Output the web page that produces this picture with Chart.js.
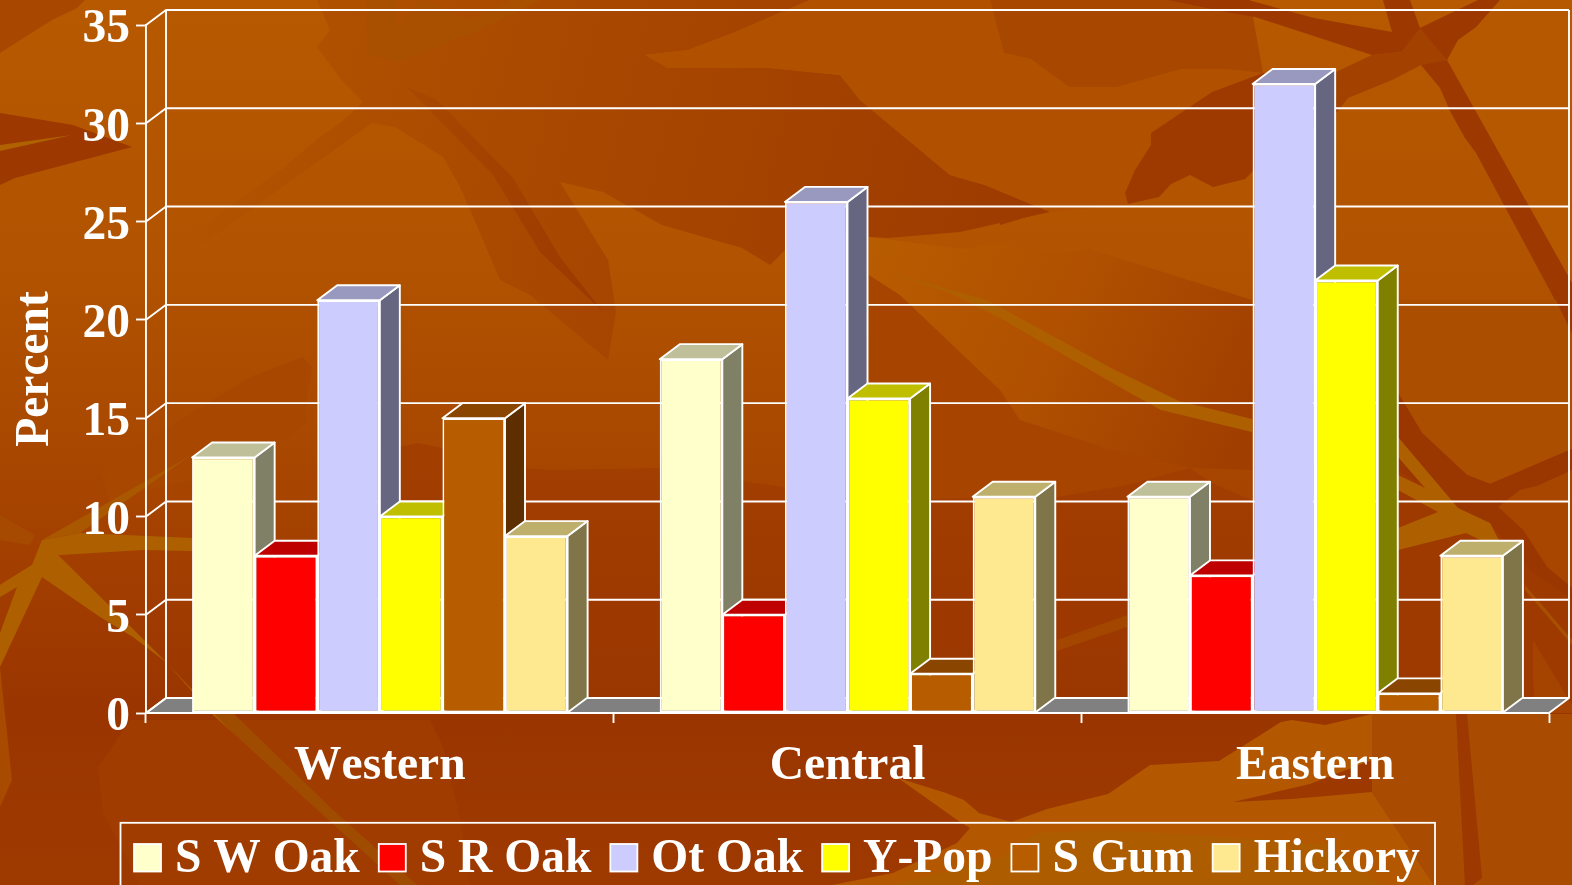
<!DOCTYPE html>
<html><head><meta charset="utf-8">
<style>
html,body{margin:0;padding:0;background:#A03C00;width:1572px;height:885px;overflow:hidden}
#bg{position:absolute;left:0;top:0}
#wrap{position:absolute;left:0;top:0;width:1572px;height:885px}
</style>
<script src="https://cdn.jsdelivr.net/npm/chart.js@4"></script>
</head><body>
<svg id="bg" width="1572" height="885" viewBox="0 0 1572 885">
<defs>
<linearGradient id="base" x1="0" y1="0" x2="0" y2="885" gradientUnits="userSpaceOnUse">
<stop offset="0" stop-color="#B75900"/><stop offset=".3" stop-color="#B15300"/><stop offset=".5" stop-color="#A94800"/><stop offset=".68" stop-color="#A03C00"/><stop offset=".8" stop-color="#9A3500"/><stop offset="1" stop-color="#9E3A00"/>
</linearGradient>
<linearGradient id="tone" x1="250" y1="0" x2="1050" y2="200" gradientUnits="userSpaceOnUse">
<stop offset="0" stop-color="#B15300"/><stop offset=".45" stop-color="#A84700"/><stop offset="1" stop-color="#9D3A00"/>
</linearGradient>
<linearGradient id="midr" x1="869" y1="240" x2="1250" y2="420" gradientUnits="userSpaceOnUse">
<stop offset="0" stop-color="#B85C00"/><stop offset=".5" stop-color="#B05000"/><stop offset="1" stop-color="#A03E00"/>
</linearGradient>
<linearGradient id="low" x1="0" y1="470" x2="0" y2="700" gradientUnits="userSpaceOnUse">
<stop offset="0" stop-color="#A23E00"/><stop offset="1" stop-color="#9A3600"/>
</linearGradient>
<linearGradient id="stripe" x1="407" y1="87" x2="603" y2="312" gradientUnits="userSpaceOnUse">
<stop offset="0" stop-color="#A84800"/><stop offset="1" stop-color="#9C3800"/>
</linearGradient>
</defs>
<rect width="1572" height="885" fill="url(#base)"/>
<!-- top tones -->
<polygon fill="url(#tone)" points="317,0 330,30 317,47 340,78 363,102 340,123 320,137 283,168 250,192 190,235 160,260 170,268 260,203 372,123 395,127 443,157 460,187 483,240 500,280 530,295 608,360 616,312 608,260 560,182 603,192 662,225 742,248 770,265 800,235 869,237 888,238 960,232 1050,212 985,185 950,175 860,100 840,75 770,68 668,68 645,55 688,50 733,33 770,17 810,0"/>
<polygon fill="url(#stripe)" points="437,100 513,178 560,257 603,312 540,252 493,175 407,87"/>
<polygon fill="#A85000" points="367,0 397,0 397,60 367,55"/>
<polygon fill="#A85000" points="397,62 480,30 540,0 510,0 470,20 420,0 397,30"/>
<polygon fill="#B15100" points="645,55 688,50 733,33 770,17 810,0 990,0 1000,38 1004,53 1031,59 1069,87 1117,87 1181,69 1226,69 1263,73 1212,92 1151,133 1151,145 1135,170 1125,193 1128,204 1050,212 985,185 950,175 860,100 840,75 770,68 668,68"/>
<polygon fill="#A84800" points="990,0 1250,0 1263,73 1226,69 1181,69 1117,87 1069,87 1031,59 1004,53 1000,38"/>
<polygon fill="#9E3A00" points="1212,92 1263,73 1336,72 1337,112 1252,172 1245,179 1213,187 1190,175 1171,184 1159,197 1128,204 1125,193 1135,170 1151,145 1151,133"/>
<polygon fill="#9C3800" points="1168,0 1248,0 1314,18 1392,32 1383,0 1410,0 1420,28 1478,0 1500,0 1447,60 1421,65 1401,52 1372,55 1336,72 1372,55 1255,17 1226,12"/>
<polygon fill="#A24100" points="1336,72 1372,55 1401,52 1420,28 1447,60 1421,65 1392,80 1348,98 1337,112"/>
<polygon fill="#B55800" points="1447,60 1458,40 1500,10 1533,0 1572,0 1572,283"/>
<polygon fill="#9C3800" points="1421,65 1440,88 1451,113 1465,138 1476,153 1555,300 1572,334 1572,283 1447,60"/>
<polygon fill="#9E3C00" points="1000,197 1030,214 1051,210 1000,225"/>
<!-- left details -->
<polygon fill="#9C3800" points="0,113 73,125 132,147 15,178 0,185"/>
<polygon fill="#B06200" points="0,145 72,135 0,151"/>
<polygon fill="#A84800" points="0,53 52,20 77,8 85,0 0,0"/>
<polygon fill="#A84800" points="100,470 250,377 303,357 312,367 305,412 308,422 270,450 190,480 110,500"/>
<!-- middle right -->
<polygon fill="#A64400" points="869,240 869,500 1057,497 1127,485 1190,468 1109,449 1020,420 1000,390 900,295 869,275"/>
<polygon fill="url(#midr)" points="869,237 962,249 1000,243 1068,253 1087,248 1252,300 1252,470 1190,468 1109,449 1020,420 1000,390 900,295 869,275"/>
<polygon fill="#AC4E00" points="1398,300 1556,300 1572,334 1572,449 1490,484 1467,475 1422,433 1398,393"/>
<polygon fill="#9E3A00" points="1398,393 1422,433 1467,475 1490,484 1572,449 1572,713 1398,713"/>
<polygon fill="#9A3600" points="1398,393 1422,433 1467,475 1490,484 1572,449 1572,470 1537,486 1520,490 1498,507 1490,523 1458,508 1425,487 1398,470"/>
<polygon fill="#A84600" points="1498,507 1520,490 1537,486 1572,470 1572,588 1547,567 1523,530"/>
<polygon fill="#9A3600" points="1498,507 1523,530 1547,567 1572,588 1572,600 1530,570 1490,523"/>
<polygon fill="#A54400" points="1533,640 1572,705 1572,713 1535,713 1533,680"/>
<!-- central dark -->
<polygon fill="url(#low)" points="400,447 418,443 442,448 527,468 550,470 657,468 869,500 1057,497 1127,485 1190,468 1212,483 1252,500 1400,500 1400,713 400,713"/>
<!-- bottom -->
<polygon fill="#A03C00" points="112,747 98,767 103,813 140,885 470,885 460,818 443,747 430,720 130,720"/>
<polygon fill="#B35800" points="1281,722 1219,761 1150,765 1108,794 1047,809 1011,822 979,813 964,800 946,793 898,778 960,822 970,828 957,843 893,873 832,885 1434,885 1372,792 1372,714 1325,725 1292,720"/>
<polygon fill="#A94B00" points="1372,714 1572,714 1572,885 1434,885 1372,792"/>
<polygon fill="#9C3800" points="1233,802 1310,784 1372,760 1372,792 1292,799"/>
<polygon fill="#9C3800" points="1456,714 1467,714 1482,878 1473,885 1465,885"/>
<polygon fill="#AE5C00" points="893,885 1000,858 1036,833 1100,830 1200,835 1330,845 1380,885"/>
<polygon fill="#A84A00" points="0,667 12,780 0,807"/>
<!-- streaks -->
<g fill="#AE6000">
<polygon points="42,540 80,533 192,538 192,551 143,550 60,555 58,555 127,623 167,663 213,715 233,733 167,663 133,637 100,617 42,577 17,587 0,585 32,565"/>
<polygon points="32,565 42,577 0,667 0,633 17,587"/>
<polygon points="32,565 17,587 0,597 0,585"/>
<polygon points="882,270 950,290 987,300 1113,369 1179,401 1252,419 1252,432 1161,410 1130,393 1000,318 950,293"/>
<polygon points="1398,437 1458,508 1490,523 1505,552 1466,533 1398,550 1398,528 1438,512 1398,490 1398,475 1425,488 1398,457"/>
</g>
<polygon fill="#A85000" points="1525,585 1572,640 1572,645 1525,590"/>
<polygon fill="#A04C00" points="213,713 233,713 333,810 417,885 400,885 233,733"/>
<polygon fill="#A24600" points="1057,640 1127,615 1127,627 1057,651"/>
<polygon fill="#A54A00" points="35,535 0,515 0,540 30,545"/>
<polygon fill="#AA5800" points="42,540 190,456 80,533"/>
</svg>
<div id="wrap"><canvas id="c" width="1572" height="885"></canvas></div>
<script>
const categories = ['Western', 'Central', 'Eastern'];
const sWOak   = [13, 18, 11];
const sROak   = [8, 5, 7];
const otOak   = [21, 26, 32];
const yPop    = [10, 16, 22];
const sGum    = [15, 2, 1];
const hickory = [9, 11, 8];
const seriesNames = ['S W Oak', 'S R Oak', 'Ot Oak', 'Y-Pop', 'S Gum', 'Hickory'];
const seriesColors = [[255,255,204],[255,0,0],[204,204,255],[255,255,0],[184,92,0],[254,233,145]];
const seriesValues = [sWOak, sROak, otOak, yPop, sGum, hickory];
const yTicks = [0, 5, 10, 15, 20, 25, 30, 35];

const DX = 20, DY = -15, LW = 1.9;
const SERIF = '"Liberation Serif","Times New Roman",serif';
const rgb = (c, f) => `rgb(${Math.round(c[0]*f)},${Math.round(c[1]*f)},${Math.round(c[2]*f)})`;
function poly(ctx, pts, fill) {
  ctx.beginPath();
  pts.forEach((p, i) => i ? ctx.lineTo(p[0], p[1]) : ctx.moveTo(p[0], p[1]));
  ctx.closePath();
  if (fill) { ctx.fillStyle = fill; ctx.fill(); }
  ctx.stroke();
}
const box3d = {
  id: 'box3d',
  beforeDraw(chart) { chart.ctx.fontKerning = 'none'; },
  beforeDatasetsDraw(chart) {
    const {ctx, scales: {x, y}} = chart;
    const L = x.left, R = x.right, B = y.getPixelForValue(0), T = y.getPixelForValue(yTicks[yTicks.length-1]);
    ctx.save();
    ctx.strokeStyle = '#fff';
    ctx.lineWidth = LW;
    ctx.lineJoin = 'round';
    poly(ctx, [[L,B],[R,B],[R+DX,B+DY],[L+DX,B+DY]], '#808080');
    yTicks.forEach(v => {
      const p = y.getPixelForValue(v);
      ctx.beginPath();
      ctx.moveTo(L, p); ctx.lineTo(L+DX, p+DY); ctx.lineTo(R+DX, p+DY);
      ctx.stroke();
    });
    ctx.beginPath();
    ctx.moveTo(L+DX, T+DY); ctx.lineTo(L+DX, B+DY);
    ctx.moveTo(R+DX, T+DY); ctx.lineTo(R+DX, B+DY);
    ctx.stroke();
    categories.forEach((_, i) => {
      seriesValues.forEach((_, s) => {
        const el = chart.getDatasetMeta(s).data[i];
        const c = seriesColors[s];
        const xl = el.x - el.width/2, xr = el.x + el.width/2, top = el.y, bot = el.base;
        poly(ctx, [[xr,top],[xr+DX,top+DY],[xr+DX,bot+DY],[xr,bot]], rgb(c,.5));
        poly(ctx, [[xl,top],[xr,top],[xr+DX,top+DY],[xl+DX,top+DY]], rgb(c,.75));
      });
    });
    ctx.restore();
  }
};
const boxLegend = {
  id: 'boxLegend',
  afterDraw(chart) {
    const ctx = chart.ctx;
    ctx.save();
    ctx.strokeStyle = '#fff';
    ctx.lineWidth = 1.8;
    ctx.strokeRect(120.5, 822.8, 1314.5, 80);
    ctx.font = 'bold 47.5px ' + SERIF;
    ctx.textBaseline = 'alphabetic';
    ctx.textAlign = 'left';
    let px = 134;
    chart.data.datasets.forEach(d => {
      ctx.fillStyle = d.backgroundColor;
      ctx.fillRect(px, 844, 27, 27.5);
      ctx.strokeRect(px, 844, 27, 27.5);
      ctx.fillStyle = '#fff';
      ctx.fillText(d.label, px + 41, 872);
      px += 41 + ctx.measureText(d.label).width + 19;
    });
    ctx.restore();
  }
};
new Chart(document.getElementById('c'), {
  type: 'bar',
  plugins: [box3d, boxLegend],
  data: {
    labels: categories,
    datasets: seriesNames.map((n, i) => ({
      label: n,
      data: seriesValues[i],
      backgroundColor: rgb(seriesColors[i], 1),
      borderColor: '#fff',
      borderWidth: LW,
      borderSkipped: false,
      categoryPercentage: 0.803,
      barPercentage: 1
    }))
  },
  options: {
    responsive: false,
    animation: false,
    layout: {padding: {left: 0, right: 23, top: 25, bottom: 0}},
    plugins: {legend: {display: false}, tooltip: {enabled: false}},
    scales: {
      x: {
        afterFit(s) { s.height = 172; s.paddingLeft = 0; s.paddingRight = 0; },
        border: {color: '#fff', width: LW},
        grid: {display: true, offset: true, drawOnChartArea: false, color: '#fff', tickColor: '#fff', tickLength: 10, tickWidth: LW},
        ticks: {color: '#fff', padding: 16, maxRotation: 0, font: {family: SERIF, weight: 'bold', size: 47.5, lineHeight: 1.15}}
      },
      y: {
        min: 0, max: 35,
        afterFit(s) { s.width = 146; s.paddingTop = 0; s.paddingBottom = 0; },
        border: {color: '#fff', width: LW},
        grid: {display: true, drawOnChartArea: false, color: '#fff', tickColor: '#fff', tickLength: 10, tickWidth: LW},
        ticks: {color: '#fff', stepSize: 5, padding: 6, labelOffset: 5, font: {family: SERIF, weight: 'bold', size: 47.5, lineHeight: 1}},
        title: {display: true, text: 'Percent', color: '#fff', padding: {top: 8, bottom: 0}, font: {family: SERIF, weight: 'bold', size: 47.5, lineHeight: 1.15}}
      }
    }
  }
});
</script>
</body></html>
